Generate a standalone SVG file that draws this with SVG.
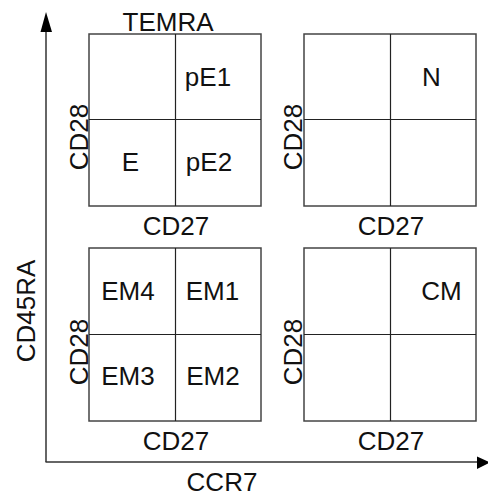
<svg xmlns="http://www.w3.org/2000/svg" width="488" height="497" viewBox="0 0 488 497">
<style>
text{font-family:"Liberation Sans",Arial,sans-serif;font-size:26px;fill:#111;text-anchor:middle}
.box{fill:#fff;stroke:#444;stroke-width:1.5}
.div{stroke:#222;stroke-width:1.2}
.axis{stroke:#333;stroke-width:1.5;fill:none}
</style>
<rect width="488" height="497" fill="#fff"/>
<g id="connectors">
<line class="axis" x1="46" y1="462" x2="46" y2="28"/>
<polygon points="46,12 40.5,32 52,32" fill="#000"/>
<line class="axis" x1="45.5" y1="462" x2="478" y2="462"/>
<polygon points="490,462.5 477,456.5 477,469" fill="#000"/>
<text x="222" y="490.5">CCR7</text>
<text transform="translate(35,311) rotate(-90)">CD45RA</text>
</g>
<g id="temra">
<rect class="box" x="89" y="34" width="172" height="172"/>
<line class="div" x1="175.5" y1="34" x2="175.5" y2="206"/>
<line class="div" x1="89" y1="119.5" x2="261" y2="119.5"/>
<text x="168" y="31">TEMRA</text>
<text x="208" y="86">pE1</text>
<text x="130.5" y="170.5">E</text>
<text x="209" y="170.5">pE2</text>
<text x="176" y="235">CD27</text>
<text transform="translate(87.5,137) rotate(-90)">CD28</text>
</g>
<g id="naive">
<rect class="box" x="304" y="34" width="172" height="172"/>
<line class="div" x1="390.5" y1="34" x2="390.5" y2="206"/>
<line class="div" x1="304" y1="119.5" x2="476" y2="119.5"/>
<text x="431.5" y="86">N</text>
<text x="391" y="235">CD27</text>
<text transform="translate(301.5,137) rotate(-90)">CD28</text>
</g>
<g id="em">
<rect class="box" x="89" y="248" width="172" height="173"/>
<line class="div" x1="175.5" y1="248" x2="175.5" y2="421"/>
<line class="div" x1="89" y1="334.5" x2="261" y2="334.5"/>
<text x="128" y="300">EM4</text>
<text x="212.5" y="300">EM1</text>
<text x="128" y="385">EM3</text>
<text x="213" y="385">EM2</text>
<text x="176" y="449.5">CD27</text>
<text transform="translate(87.5,352) rotate(-90)">CD28</text>
</g>
<g id="cm">
<rect class="box" x="304" y="248" width="172" height="173"/>
<line class="div" x1="390.5" y1="248" x2="390.5" y2="421"/>
<line class="div" x1="304" y1="334.5" x2="476" y2="334.5"/>
<text x="441.5" y="300">CM</text>
<text x="391" y="449.5">CD27</text>
<text transform="translate(301.5,352) rotate(-90)">CD28</text>
</g>
</svg>
